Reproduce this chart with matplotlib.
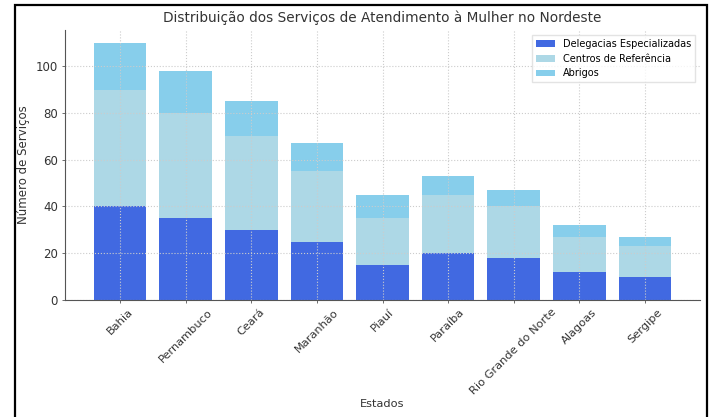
import matplotlib.pyplot as plt
import numpy as np
from matplotlib.patches import Rectangle

# Dados por estado
estados = ['Bahia', 'Pernambuco', 'Ceará', 'Maranhão', 'Piauí', 'Paraíba',
           'Rio Grande do Norte', 'Alagoas', 'Sergipe']
delegacias = [40, 35, 30, 25, 15, 20, 18, 12, 10]
centros = [50, 45, 40, 30, 20, 25, 22, 15, 13]
abrigos = [20, 18, 15, 12, 10, 8, 7, 5, 4]

fig = plt.figure(figsize=(7.15, 4.17), dpi=100)
ax = fig.add_axes([65 / 715, 1 - 300 / 417, 635 / 715, 270 / 417])

x = np.arange(len(estados))
base2 = np.array(delegacias)
base3 = base2 + np.array(centros)
ax.bar(x, delegacias, 0.8, color='royalblue', label='Delegacias Especializadas')
ax.bar(x, centros, 0.8, bottom=base2, color='lightblue', label='Centros de Referência')
ax.bar(x, abrigos, 0.8, bottom=base3, color='skyblue', label='Abrigos')

ax.set_xticks(x)
ax.set_xticklabels(estados, rotation=45, fontsize=8.2, color='#333333')
ax.tick_params(axis='y', labelsize=8.5, labelcolor='#333333')
ax.tick_params(length=2, width=0.6, color='#555555', pad=3)
ax.set_xlabel('Estados', fontsize=8.2, color='#333333', labelpad=2)
ax.set_ylabel('Número de Serviços', fontsize=8.5, color='#333333')
ax.set_title('Distribuição dos Serviços de Atendimento à Mulher no Nordeste',
             fontsize=9.8, color='#333333', pad=6)

ax.grid(True, linestyle=':', color='#cccccc', linewidth=0.8)
for s in ['top', 'right']:
    ax.spines[s].set_visible(False)
for s in ['left', 'bottom']:
    ax.spines[s].set_color('#555555')

ax.legend(loc='upper right', fontsize=7, fancybox=False, edgecolor='#dddddd')

# moldura preta da captura de tela
fig.patches.append(Rectangle((15 / 715, -0.05), 692 / 715, 1 - 5 / 417 + 0.05,
                             transform=fig.transFigure, fill=False,
                             edgecolor='black', linewidth=1.6))

fig.savefig('out.png', dpi=100)
